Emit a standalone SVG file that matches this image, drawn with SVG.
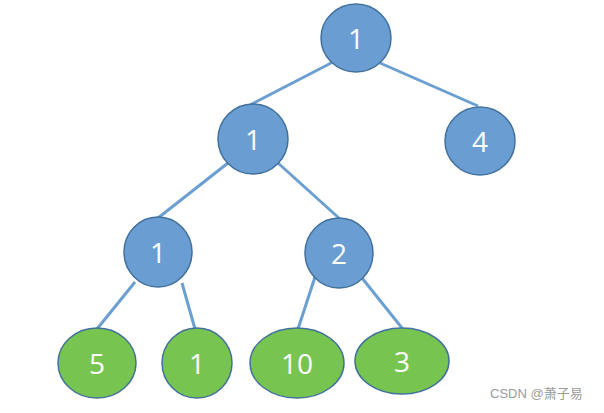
<svg xmlns="http://www.w3.org/2000/svg" width="604" height="413" viewBox="0 0 604 413">
<style>
.e{stroke:#6b9fd1;stroke-width:3;fill:none}
.b{fill:#6a9ed2;stroke:#41719c;stroke-width:1.5}
.g{fill:#77c550;stroke:#41719c;stroke-width:1.5}
.t{font-family:"Open Sans","Liberation Sans",sans-serif;font-size:28px;fill:#ffffff;text-anchor:middle;dominant-baseline:central}
.w{font-family:"Liberation Sans","Noto Sans CJK SC",sans-serif;font-size:13px;fill:#9a9a9a}
</style>
<rect width="604" height="413" fill="#ffffff"/>
<g id="connectors">
<line class="e" x1="333" y1="62" x2="250" y2="105"/>
<line class="e" x1="380" y1="63" x2="478" y2="106"/>
<line class="e" x1="228" y1="163" x2="158" y2="218"/>
<line class="e" x1="278" y1="163" x2="340" y2="219"/>
<line class="e" x1="135" y1="282" x2="97" y2="329"/>
<line class="e" x1="182" y1="283" x2="195" y2="329"/>
<line class="e" x1="315" y1="277" x2="298" y2="329"/>
<line class="e" x1="362" y1="278" x2="402" y2="328"/>
</g>
<g id="n-root"><ellipse class="b" cx="356" cy="38" rx="35" ry="34"/><text class="t" x="356" y="38">1</text></g>
<g id="n-l"><ellipse class="b" cx="253" cy="139" rx="35" ry="35"/><text class="t" x="253" y="139">1</text></g>
<g id="n-r"><ellipse class="b" cx="480" cy="141" rx="35" ry="34"/><text class="t" x="480" y="141">4</text></g>
<g id="n-ll"><ellipse class="b" cx="158" cy="252" rx="34" ry="35"/><text class="t" x="158" y="252">1</text></g>
<g id="n-lr"><ellipse class="b" cx="339" cy="253" rx="34" ry="35"/><text class="t" x="339" y="253">2</text></g>
<g id="leaf5"><ellipse class="g" cx="97" cy="363" rx="39" ry="35"/><text class="t" x="97" y="363">5</text></g>
<g id="leaf1"><ellipse class="g" cx="197" cy="363" rx="35" ry="35"/><text class="t" x="197" y="363">1</text></g>
<g id="leaf10"><ellipse class="g" cx="297" cy="363" rx="47" ry="35"/><text class="t" x="297" y="363">10</text></g>
<g id="leaf3"><ellipse class="g" cx="402" cy="361" rx="47" ry="33"/><text class="t" x="402" y="361">3</text></g>
<text class="w" x="490" y="398">CSDN @萧子易</text>
</svg>
